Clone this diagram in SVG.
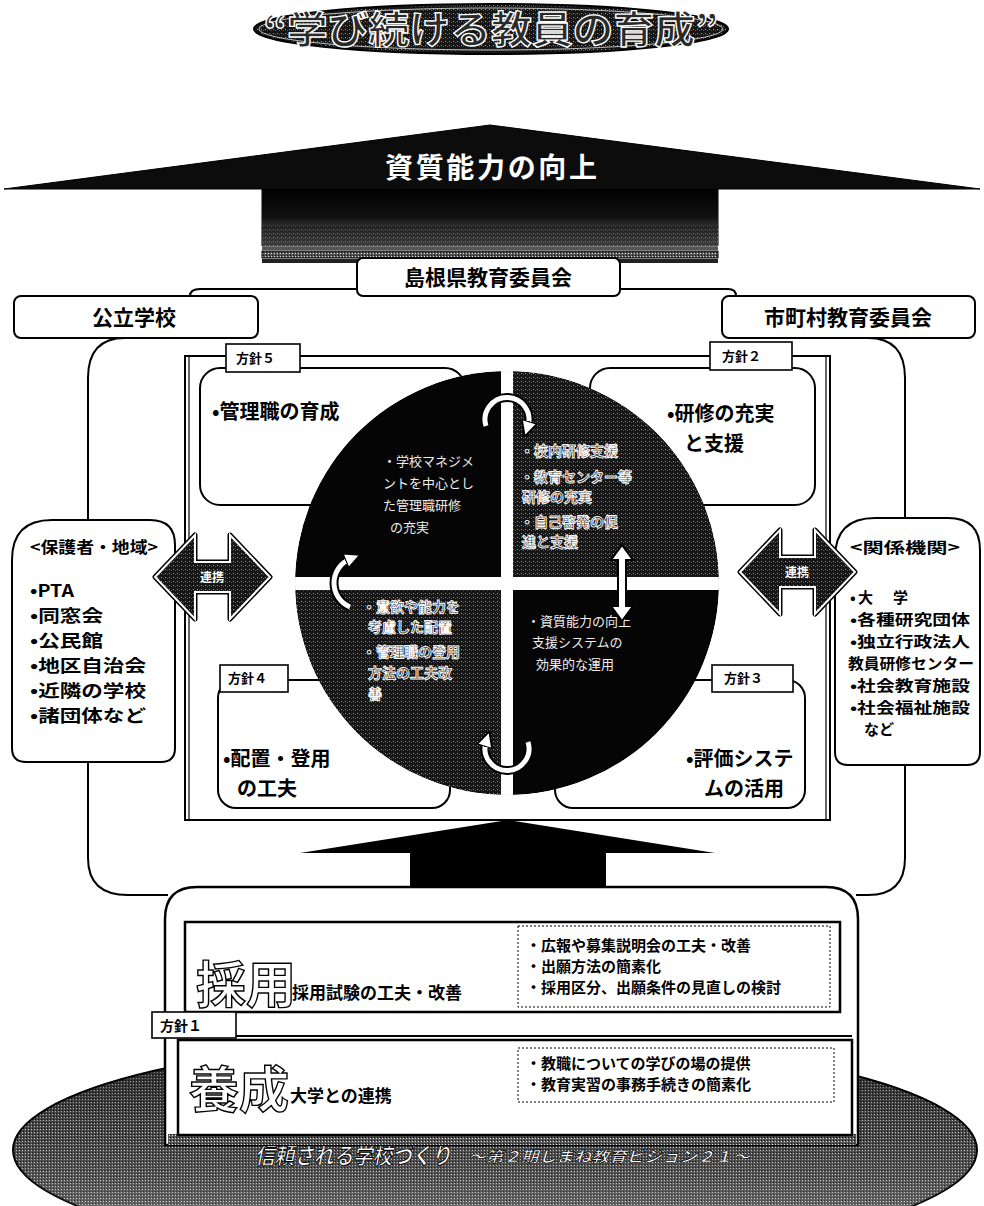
<svg xmlns="http://www.w3.org/2000/svg" width="984" height="1206" viewBox="0 0 984 1206">
<defs>
<pattern id="tex" width="4" height="4" patternUnits="userSpaceOnUse"><rect width="4" height="4" fill="#161616"/><rect x="1" y="1" width="1" height="1" fill="#9a9a9a"/><rect x="3" y="2" width="1" height="1" fill="#555"/></pattern>
<pattern id="texL" width="3" height="3" patternUnits="userSpaceOnUse"><rect width="3" height="3" fill="#555"/><rect x="1" y="1" width="1" height="1" fill="#e0e0e0"/><rect x="2" y="0" width="1" height="1" fill="#111"/></pattern>
<linearGradient id="shaftG" x1="0" y1="0" x2="0" y2="1"><stop offset="0" stop-color="#000"/><stop offset="0.5" stop-color="#111"/><stop offset="1" stop-color="#777"/></linearGradient>
<linearGradient id="ellG" x1="0" y1="0" x2="0" y2="1"><stop offset="0" stop-color="#000" stop-opacity="0.55"/><stop offset="0.4" stop-color="#000" stop-opacity="0.15"/><stop offset="1" stop-color="#fff" stop-opacity="0.4"/></linearGradient>
<clipPath id="circ"><circle cx="507" cy="583" r="212"/></clipPath>
<marker id="ah" viewBox="0 0 10 10" refX="3" refY="5" markerWidth="3.2" markerHeight="3.2" orient="auto"><path d="M0,0 L10,5 L0,10 z" fill="#fff" stroke="#000" stroke-width="1.2"/></marker>
</defs>
<style>
.jp{font-family:'Noto Sans CJK JP','Noto Sans CJK SC',sans-serif;font-weight:700}
.box{fill:#fff;stroke:#000;stroke-width:2}
.tab{fill:#fff;stroke:#000;stroke-width:1.6}
.tabt{font-size:13px;fill:#000}
.ln{fill:none;stroke:#000;stroke-width:2}
.lbl{font-size:20px;fill:#000}
.sideL{font-size:17px;fill:#000}
.sideR{font-size:15px;fill:#000}
.hollow{fill:#222;stroke:#fff;stroke-width:0.9;font-size:14px}
.wt{fill:#eee;font-size:13px;font-weight:400}
.arcO{fill:none;stroke:#000;stroke-width:9}
.arcI{fill:none;stroke:#fff;stroke-width:5}
.sub{font-size:15px;fill:#000}
</style>

<!-- title -->
<g id="title">
<ellipse cx="491" cy="29" rx="237" ry="25" fill="url(#tex)" stroke="#000" stroke-width="2"/>
<ellipse cx="491" cy="29" rx="232" ry="21" fill="none" stroke="#bbb" stroke-width="1"/>
<text class="jp" x="491" y="43" text-anchor="middle" font-size="38" fill="#2a2a2a" stroke="#fff" stroke-width="1.3" textLength="455" lengthAdjust="spacingAndGlyphs">“学び続ける教員の育成”</text>
</g>

<!-- big arrow -->
<g id="bigArrow">
<polygon points="4,189 490,125 980,189 718,189 718,246 262,246 262,189" fill="#0c0c0c" stroke="#000" stroke-width="1"/>
<rect x="262" y="189" width="456" height="57" fill="url(#shaftG)"/>
<rect x="262" y="226" width="456" height="20" fill="url(#tex)" opacity="0.6"/>
<rect x="262" y="247" width="456" height="3" fill="#555"/>
<rect x="262" y="251" width="456" height="7" fill="url(#texL)" stroke="#000" stroke-width="1"/>
<rect x="262" y="259" width="456" height="4" fill="#222"/>
<text class="jp" x="385" y="178" font-size="28" font-weight="500" fill="#fff" textLength="212" lengthAdjust="spacing">資質能力の向上</text>
</g>

<!-- connectors and frames -->
<g id="connectors">
<path class="ln" d="M190 296 Q190 289 200 289 L357 289"/>
<path class="ln" d="M620 289 L728 289 Q736 289 736 296"/>
<path class="ln" d="M125 338 Q88 338 88 378 L88 520"/>
<path class="ln" d="M868 338 Q905 338 905 378 L905 518"/>
<path class="ln" d="M88 762 L88 858 Q88 895 128 895 L168 895"/>
<path class="ln" d="M905 765 L905 858 Q905 895 868 895 L856 895"/>
<rect x="185" y="356" width="645" height="464" fill="none" stroke="#000" stroke-width="2"/>
<line x1="189" y1="356" x2="189" y2="820" stroke="#000" stroke-width="1.2"/>
<line x1="826" y1="356" x2="826" y2="820" stroke="#000" stroke-width="1.2"/>
</g>

<g id="shimane">
<rect class="box" x="357" y="258" width="263" height="38" rx="6"/>
<text class="jp" x="488" y="285" text-anchor="middle" font-size="21" font-weight="500">島根県教育委員会</text>
</g>
<g id="kouritsu">
<rect class="box" x="14" y="296" width="244" height="42" rx="7"/>
<text class="jp" x="134" y="325" text-anchor="middle" font-size="21" font-weight="500">公立学校</text>
</g>
<g id="shichoson">
<rect class="box" x="722" y="296" width="253" height="42" rx="7"/>
<text class="jp" x="848" y="325" text-anchor="middle" font-size="21" font-weight="500">市町村教育委員会</text>
</g>

<!-- policy boxes -->
<g id="houshin5">
<rect class="box" x="200" y="368" width="265" height="137" rx="20"/>
<rect class="tab" x="226" y="344" width="74" height="28"/>
<text class="jp tabt" x="236" y="363">方針５</text>
<text class="jp lbl" x="212" y="419">•管理職の育成</text>
</g>
<g id="houshin2">
<rect class="box" x="590" y="368" width="225" height="137" rx="20"/>
<rect class="tab" x="710" y="342" width="82" height="28"/>
<text class="jp tabt" x="722" y="361">方針２</text>
<text class="jp lbl" x="667" y="421">•研修の充実</text>
<text class="jp lbl" x="684" y="451">と支援</text>
</g>
<g id="houshin4">
<rect class="box" x="218" y="680" width="232" height="128" rx="18"/>
<rect class="tab" x="220" y="665" width="68" height="27"/>
<text class="jp tabt" x="228" y="683">方針４</text>
<text class="jp lbl" x="223" y="766">•配置・登用</text>
<text class="jp lbl" x="237" y="796">の工夫</text>
</g>
<g id="houshin3">
<rect class="box" x="555" y="680" width="250" height="128" rx="18"/>
<rect class="tab" x="712" y="665" width="81" height="27"/>
<text class="jp tabt" x="724" y="683">方針３</text>
<text class="jp lbl" x="686" y="766">•評価システ</text>
<text class="jp lbl" x="704" y="796">ムの活用</text>
</g>

<!-- circle -->
<g id="circle">
<g clip-path="url(#circ)">
<path d="M507 583 L295 583 A212 212 0 0 1 507 371 Z" fill="#050505"/>
<path d="M507 583 L507 371 A212 212 0 0 1 719 583 Z" fill="url(#tex)"/>
<path d="M507 583 L719 583 A212 212 0 0 1 507 795 Z" fill="#050505"/>
<path d="M507 583 L507 795 A212 212 0 0 1 295 583 Z" fill="url(#tex)"/>
<rect x="501" y="360" width="12" height="450" fill="#fff"/>
<rect x="290" y="577" width="434" height="13" fill="#fff"/>
</g>
<text class="jp wt" x="383" y="466">・学校マネジメ</text>
<text class="jp wt" x="383" y="488">ントを中心とし</text>
<text class="jp wt" x="383" y="510">た管理職研修</text>
<text class="jp wt" x="390" y="532">の充実</text>
<text class="jp hollow" x="520" y="456">・校内研修支援</text>
<text class="jp hollow" x="520" y="482">・教育センター等</text>
<text class="jp hollow" x="522" y="502">研修の充実</text>
<text class="jp hollow" x="520" y="527">・自己啓発の促</text>
<text class="jp hollow" x="522" y="547">進と支援</text>
<text class="jp hollow" x="362" y="612">・意欲や能力を</text>
<text class="jp hollow" x="368" y="632">考慮した配置</text>
<text class="jp hollow" x="362" y="657">・管理職の登用</text>
<text class="jp hollow" x="368" y="678">方法の工夫改</text>
<text class="jp hollow" x="368" y="699">善</text>
<text class="jp wt" x="527" y="626">・資質能力の向上</text>
<text class="jp wt" x="532" y="647">支援システムの</text>
<text class="jp wt" x="536" y="669">効果的な運用</text>
<!-- cycle arrows -->
<path class="arcO" d="M486 426 A22 22 0 1 1 528 426"/>
<path class="arcI" d="M486 426 A22 22 0 1 1 528 426" marker-end="url(#ah)"/>
<path class="arcO" d="M528 742 A22 22 0 1 1 486 742"/>
<path class="arcI" d="M528 742 A22 22 0 1 1 486 742" marker-end="url(#ah)"/>
<path class="arcO" d="M350 607 A26 26 0 0 1 350 559"/>
<path class="arcI" d="M350 607 A26 26 0 0 1 350 559" marker-end="url(#ah)"/>
<polygon points="622,545 633,560 626,560 626,606 633,606 622,621 611,606 618,606 618,560 611,560" fill="#fff" stroke="#000" stroke-width="2"/>
</g>

<!-- side boxes -->
<g id="hogosha">
<path class="box" d="M12 560 Q12 520 52 520 L150 520 Q175 520 175 545 L175 748 Q175 762 161 762 L26 762 Q12 762 12 748 Z"/>
<text class="jp" x="30" y="553" font-size="16" textLength="128" lengthAdjust="spacingAndGlyphs">&lt;保護者・地域&gt;</text>
<text class="jp sideL" x="30" y="597" textLength="44" lengthAdjust="spacingAndGlyphs">•PTA</text>
<text class="jp sideL" x="30" y="622" textLength="73" lengthAdjust="spacingAndGlyphs">•同窓会</text>
<text class="jp sideL" x="30" y="647" textLength="73" lengthAdjust="spacingAndGlyphs">•公民館</text>
<text class="jp sideL" x="30" y="672" textLength="116" lengthAdjust="spacingAndGlyphs">•地区自治会</text>
<text class="jp sideL" x="30" y="697" textLength="116" lengthAdjust="spacingAndGlyphs">•近隣の学校</text>
<text class="jp sideL" x="30" y="722" textLength="116" lengthAdjust="spacingAndGlyphs">•諸団体など</text>
</g>
<g id="kankei">
<path class="box" d="M835 558 Q835 518 875 518 L948 518 Q980 518 980 550 L980 752 Q980 765 967 765 L848 765 Q835 765 835 752 Z"/>
<text class="jp" x="850" y="553" font-size="15" textLength="110" lengthAdjust="spacingAndGlyphs">&lt;関係機関&gt;</text>
<text class="jp sideR" x="850" y="603" textLength="58" lengthAdjust="spacing">•大　学</text>
<text class="jp sideR" x="850" y="625" textLength="120" lengthAdjust="spacingAndGlyphs">•各種研究団体</text>
<text class="jp sideR" x="850" y="647" textLength="120" lengthAdjust="spacingAndGlyphs">•独立行政法人</text>
<text class="jp sideR" x="848" y="669" textLength="126" lengthAdjust="spacingAndGlyphs">教員研修センター</text>
<text class="jp sideR" x="850" y="691" textLength="120" lengthAdjust="spacingAndGlyphs">•社会教育施設</text>
<text class="jp sideR" x="850" y="713" textLength="120" lengthAdjust="spacingAndGlyphs">•社会福祉施設</text>
<text class="jp sideR" x="864" y="735">など</text>
</g>
<g id="renkeiL">
<polygon points="155,577 195,535 195,562 230,562 230,535 270,577 230,619 230,592 195,592 195,619" fill="#000" stroke="#000" stroke-width="5" stroke-linejoin="round"/>
<polygon points="155,577 195,535 195,562 230,562 230,535 270,577 230,619 230,592 195,592 195,619" fill="url(#tex)" stroke="#fff" stroke-width="2"/>
<text class="jp" x="212" y="582" text-anchor="middle" font-size="12" fill="#fff">連携</text>
</g>
<g id="renkeiR">
<polygon points="740,572 780,530 780,557 815,557 815,530 855,572 815,614 815,587 780,587 780,614" fill="#000" stroke="#000" stroke-width="5" stroke-linejoin="round"/>
<polygon points="740,572 780,530 780,557 815,557 815,530 855,572 815,614 815,587 780,587 780,614" fill="url(#tex)" stroke="#fff" stroke-width="2"/>
<text class="jp" x="797" y="577" text-anchor="middle" font-size="12" fill="#fff">連携</text>
</g>

<!-- up arrow -->
<g id="upArrow">
<polygon points="300,853 508,820 715,853 606,853 606,890 410,890 410,853" fill="#000"/>
</g>

<!-- bottom ellipse -->
<g id="baseEllipse">
<ellipse cx="495" cy="1150" rx="482" ry="112" fill="url(#texL)" stroke="#000" stroke-width="2"/>
<ellipse cx="495" cy="1150" rx="482" ry="112" fill="url(#ellG)"/>
<text class="jp" x="255" y="1164" font-size="23" font-style="italic" fill="#fff" stroke="#000" stroke-width="0.9" textLength="196" lengthAdjust="spacingAndGlyphs">信頼される学校づくり</text>
<text class="jp" x="468" y="1162" font-size="15" font-style="italic" fill="#fff" stroke="#000" stroke-width="0.6" textLength="282" lengthAdjust="spacingAndGlyphs">～第２期しまね教育ビジョン２１～</text>
</g>

<!-- bottom container -->
<g id="container">
<path d="M165 1145 L165 919 Q165 887 197 887 L826 887 Q858 887 858 919 L858 1145 Z" fill="#fff" stroke="#000" stroke-width="2.5"/>
<rect x="168" y="1134" width="688" height="11" fill="url(#texL)"/>
</g>
<g id="saiyou">
<rect x="185" y="922" width="655" height="90" fill="#fff" stroke="#000" stroke-width="2.5"/>
<rect x="518" y="926" width="312" height="81" fill="none" stroke="#000" stroke-width="1" stroke-dasharray="2 2"/>
<text class="jp" x="196" y="1003" font-size="50" font-weight="400" fill="#fff" stroke="#000" stroke-width="1.4">採用</text>
<text class="jp" x="292" y="999" font-size="17">採用試験の工夫・改善</text>
<text class="jp sub" x="526" y="951">・広報や募集説明会の工夫・改善</text>
<text class="jp sub" x="526" y="972">・出願方法の簡素化</text>
<text class="jp sub" x="526" y="993">・採用区分、出願条件の見直しの検討</text>
</g>
<g id="yousei">
<line x1="236" y1="1036" x2="852" y2="1036" stroke="#000" stroke-width="2"/>
<rect x="178" y="1040" width="674" height="95" fill="#fff" stroke="#000" stroke-width="2.5"/>
<rect x="518" y="1048" width="316" height="54" fill="none" stroke="#000" stroke-width="1" stroke-dasharray="2 2"/>
<rect class="tab" x="152" y="1012" width="84" height="26"/>
<text class="jp" x="160" y="1031" font-size="14">方針１</text>
<text class="jp" x="189" y="1108" font-size="50" font-weight="400" fill="#fff" stroke="#000" stroke-width="1.4">養成</text>
<text class="jp" x="290" y="1102" font-size="17">大学との連携</text>
<text class="jp sub" x="526" y="1069">・教職についての学びの場の提供</text>
<text class="jp sub" x="526" y="1090">・教育実習の事務手続きの簡素化</text>
</g>
</svg>
